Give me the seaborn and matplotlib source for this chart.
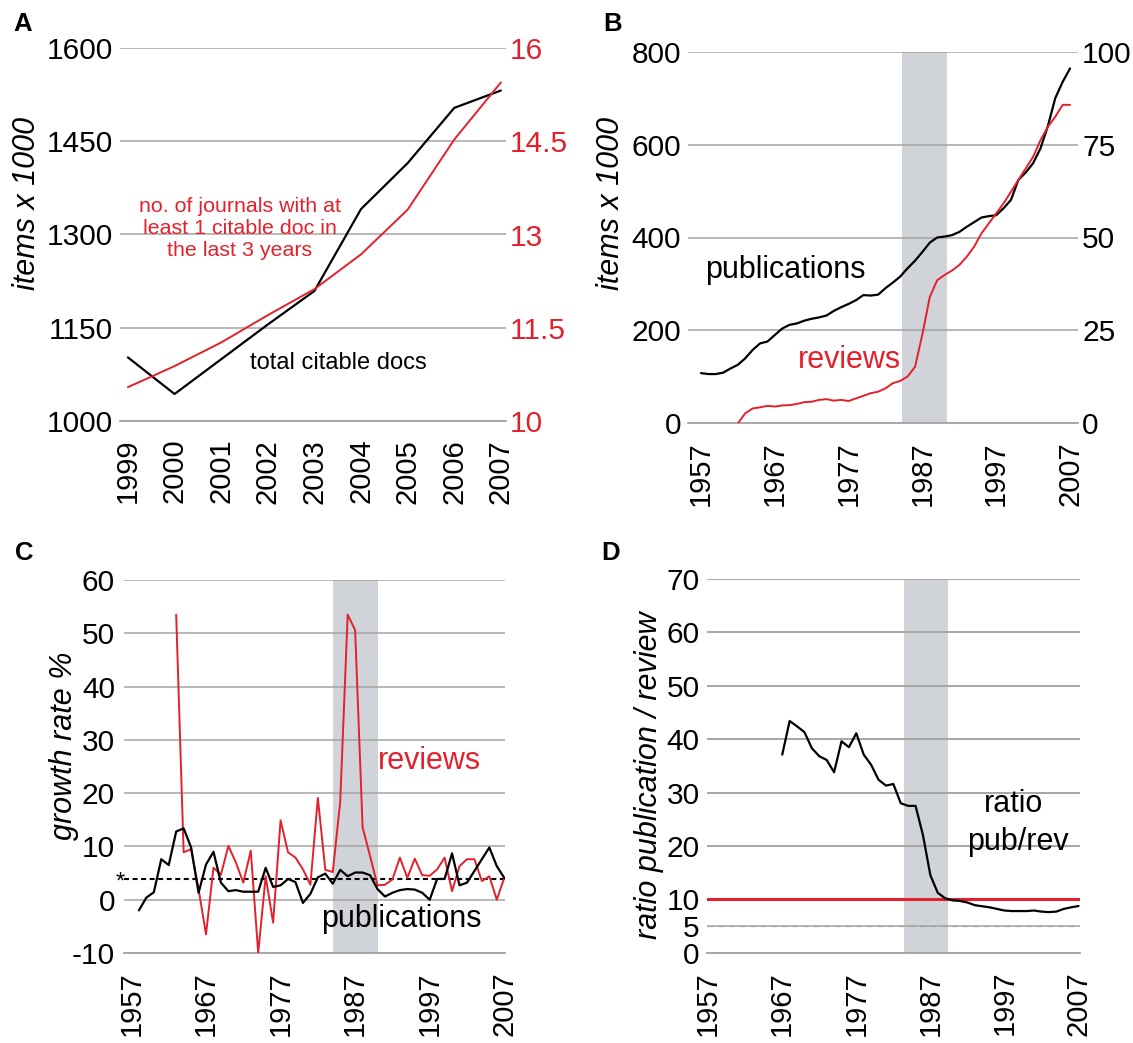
import matplotlib
matplotlib.use("Agg")
import matplotlib.pyplot as plt
import seaborn as sns
import pandas as pd

# ---------------- data ----------------
# Panel A
years_a = [1999, 2000, 2001, 2002, 2003, 2004, 2005, 2006, 2007]
citable_docs = [1102, 1043, 1099, 1155, 1209, 1341, 1415, 1504, 1532]
journals = [10.54, 10.88, 11.26, 11.70, 12.12, 12.68, 13.40, 14.53, 15.45]

# Panel B
years_pub = list(range(1957, 2008))
publications = [108, 106, 106, 109, 118, 126, 140, 158, 172, 176,
                 190, 204, 212, 215, 221, 225, 228, 232, 242, 250,
                 257, 265, 276, 275, 277, 291, 303, 316, 334, 350,
                 369, 389, 400, 402, 405, 412, 423, 433, 443, 446,
                 448, 463, 481, 524, 540, 560, 592, 640, 700, 735, 764]
years_rev = list(range(1962, 2008))
reviews = [0, 2.7, 4.0, 4.3, 4.7, 4.5, 4.8, 4.9, 5.2, 5.7,
           5.8, 6.3, 6.5, 6.1, 6.3, 6.0, 6.7, 7.4, 8.1, 8.5,
           9.4, 10.8, 11.4, 12.6, 15.2, 24.0, 34.0, 38.5, 39.9, 41.1,
           42.6, 44.8, 47.5, 51.1, 53.8, 56.5, 59.2, 62.3, 65.5, 68.6,
           71.7, 76.2, 79.8, 82.5, 85.7, 85.7]

# Panel C
years_gpub = list(range(1958, 2008))
growth_pub = [-2.0, 0.4, 1.4, 7.6, 6.5, 12.8, 13.4, 9.8, 1.3, 6.6,
              9.0, 3.2, 1.6, 1.8, 1.5, 1.5, 1.5, 6.0, 2.4, 2.7,
              3.9, 3.3, -0.6, 1.1, 4.2, 4.9, 3.0, 5.6, 4.4, 5.1,
              5.1, 4.6, 2.0, 0.6, 1.3, 1.8, 2.0, 1.9, 1.3, 0.0,
              3.9, 3.9, 8.7, 2.7, 3.2, 5.4, 7.6, 9.8, 6.3, 4.1]
years_grev = list(range(1963, 2008))
growth_rev = [53.5, 8.9, 9.5, 2.0, -6.5, 6.0, 4.7, 10.1, 7.0, 3.2,
              9.2, -10.0, 4.4, -4.3, 14.9, 8.9, 7.9, 5.7, 2.8, 19.1,
              5.6, 5.2, 18.4, 53.5, 50.6, 13.6, 8.2, 2.7, 2.8, 3.8,
              7.9, 4.1, 7.7, 4.6, 4.5, 5.7, 7.9, 1.6, 6.3, 7.6,
              7.6, 3.5, 4.4, 0.0, 4.1]
mean_growth = 3.9

# Panel D
years_ratio = list(range(1967, 2008))
ratio = [37.1, 43.4, 42.4, 41.3, 38.3, 36.8, 36.1, 33.8, 39.6, 38.5,
         41.1, 37.1, 35.2, 32.4, 31.3, 31.6, 28.0, 27.5, 27.5, 22.0,
         14.5, 11.2, 10.2, 9.8, 9.7, 9.4, 8.9, 8.7, 8.5, 8.2,
         7.9, 7.8, 7.8, 7.8, 7.9, 7.7, 7.6, 7.7, 8.2, 8.5, 8.75]
ratio_ref_high = 10
ratio_ref_low = 5

decade_ticks = [1957, 1967, 1977, 1987, 1997, 2007]

# ---------------- style ----------------
sns.set_style("white")
plt.rcParams['font.family'] = ['Liberation Sans', 'DejaVu Sans']
plt.rcParams['axes.unicode_minus'] = False
plt.rcParams['text.color'] = 'black'
plt.rcParams['xtick.labelcolor'] = 'black'
plt.rcParams['ytick.labelcolor'] = 'black'

W, H = 1133, 1043
RED = '#e3202b'
GRID = '#a4a4a4'
BAND = '#d0d3d7'
TICK_FS = 21.5
BIG_FS = 22


def rect(l, t, r, b):
    return [l / W, 1 - b / H, (r - l) / W, (b - t) / H]


def ftext(x, y, s, **kw):
    fig.text(x / W, 1 - y / H, s, **kw)


def style_axes(ax, xlim, ylim, xticks, yticks, grid=True, ypad=5):
    ax.set_xlim(*xlim)
    ax.set_ylim(*ylim)
    ax.set_xticks(xticks)
    ax.set_yticks(yticks)
    for s in ['top', 'right', 'left']:
        ax.spines[s].set_visible(False)
    ax.spines['bottom'].set_color(GRID)
    ax.spines['bottom'].set_linewidth(1.3)
    ax.tick_params(axis='x', length=7, width=1.3, color=GRID, pad=6,
                   labelsize=21, labelrotation=90, labelcolor='black')
    ax.tick_params(axis='y', length=0, pad=ypad, labelsize=TICK_FS,
                   labelcolor='black')
    ax.set_xlabel('')
    ax.set_ylabel('')
    ax.set_axisbelow(True)
    ax.xaxis.grid(False)
    ax.yaxis.grid(grid, color=GRID, lw=1.1)
    ax.patch.set_alpha(0)


def style_twin(ax2, ylim, yticks, labels, color):
    ax2.set_ylim(*ylim)
    ax2.set_yticks(yticks)
    ax2.set_yticklabels(labels)
    for s in ['top', 'right', 'left', 'bottom']:
        ax2.spines[s].set_visible(False)
    ax2.tick_params(axis='y', length=0, pad=3, labelsize=TICK_FS,
                    labelcolor=color)
    ax2.set_ylabel('')
    ax2.grid(False)


fig = plt.figure(figsize=(W / 100, H / 100), dpi=100)

# ---------------- Panel A ----------------
axA = fig.add_axes(rect(120, 48.3, 506, 420.7))
sns.lineplot(x=years_a, y=citable_docs, ax=axA, color='black', lw=1.6)
style_axes(axA, (1998.83, 2007.11), (1000, 1600), years_a,
           [1000, 1150, 1300, 1450, 1600])
axA2 = axA.twinx()
sns.lineplot(x=years_a, y=journals, ax=axA2, color=RED, lw=1.4)
style_twin(axA2, (10, 16), [10, 11.5, 13, 14.5, 16],
           ['10', '11.5', '13', '14.5', '16'], RED)
axA.set_xlim(1998.83, 2007.11)

ftext(240, 229, "no. of journals with at\nleast 1 citable doc in\nthe last 3 years",
      color=RED, fontsize=15.4, ha='center', va='center', linespacing=1.2)
ftext(338, 363, "total citable docs", color='black', fontsize=17,
      ha='center', va='center')

# ---------------- Panel B ----------------
axB = fig.add_axes(rect(688, 51.7, 1078, 423.3))
axB.axvspan(1984.3, 1990.3, color=BAND, lw=0, zorder=0)
sns.lineplot(x=years_pub, y=publications, ax=axB, color='black', lw=1.6)
style_axes(axB, (1955.24, 2008.08), (0, 800), decade_ticks,
           [0, 200, 400, 600, 800])
axB2 = axB.twinx()
sns.lineplot(x=years_rev, y=reviews, ax=axB2, color=RED, lw=1.4)
style_twin(axB2, (0, 100), [0, 25, 50, 75, 100],
           ['0', '25', '50', '75', '100'], 'black')
axB.set_xlim(1955.24, 2008.08)

ftext(785, 270, "publications", color='black', fontsize=BIG_FS,
      ha='center', va='center')
ftext(849, 360, "reviews", color=RED, fontsize=BIG_FS,
      ha='center', va='center')

# ---------------- Panel C ----------------
axC = fig.add_axes(rect(124, 580, 505, 953))
axC.axvspan(1984.0, 1990.0, color=BAND, lw=0, zorder=0)
axC.axhline(mean_growth, color='black', lw=1.5, ls=(0, (2.4, 1.7)), zorder=2)
sns.lineplot(x=years_grev, y=growth_rev, ax=axC, color=RED, lw=1.4, zorder=3)
sns.lineplot(x=years_gpub, y=growth_pub, ax=axC, color='black', lw=1.6, zorder=4)
style_axes(axC, (1956.0, 2007.1), (-10, 60), decade_ticks,
           [-10, 0, 10, 20, 30, 40, 50, 60], ypad=6.5)

ftext(120, 883, "*", color='black', fontsize=17, ha='center', va='center')
ftext(429, 761, "reviews", color=RED, fontsize=BIG_FS, ha='center', va='center')
ftext(401, 919, "publications", color='black', fontsize=BIG_FS,
      ha='center', va='center')

# ---------------- Panel D ----------------
axD = fig.add_axes(rect(706.7, 579, 1080, 952.7))
axD.axvspan(1983.4, 1989.4, color=BAND, lw=0, zorder=0)
style_axes(axD, (1956.8, 2007.2), (0, 70), decade_ticks,
           [0, 5, 10, 20, 30, 40, 50, 60, 70], grid=False)
for yv in [20, 30, 40, 50, 60, 70]:
    axD.axhline(yv, color=GRID, lw=1.1, zorder=0.5)
axD.axhline(ratio_ref_low, color=GRID, lw=0.9, ls=(0, (4.5, 4)), zorder=0.5)
axD.axhline(ratio_ref_high, color=RED, lw=2.2, zorder=2)
sns.lineplot(x=years_ratio, y=ratio, ax=axD, color='black', lw=1.6, zorder=3)
axD.set_xlabel('')
axD.set_ylabel('')

ftext(1014, 804, "ratio", color='black', fontsize=BIG_FS, ha='center', va='center')
ftext(1018, 842, "pub/rev", color='black', fontsize=BIG_FS, ha='center', va='center')

# ---------------- axis titles & panel letters ----------------
ftext(27, 203, "items x 1000", fontsize=BIG_FS, style='italic', rotation=90,
      ha='center', va='center')
ftext(611, 203, "items x 1000", fontsize=BIG_FS, style='italic', rotation=90,
      ha='center', va='center')
ftext(64, 746, "growth rate %", fontsize=BIG_FS, style='italic', rotation=90,
      ha='center', va='center')
ftext(649, 775, "ratio publication / review", fontsize=BIG_FS, style='italic',
      rotation=90, ha='center', va='center')

for letter, (x, y) in zip("ABCD", [(22.5, 24), (613, 24), (24, 553), (611, 553)]):
    ftext(x, y, letter, fontsize=18.5, fontweight='bold', ha='center', va='center')

fig.savefig("out.png", dpi=100)
